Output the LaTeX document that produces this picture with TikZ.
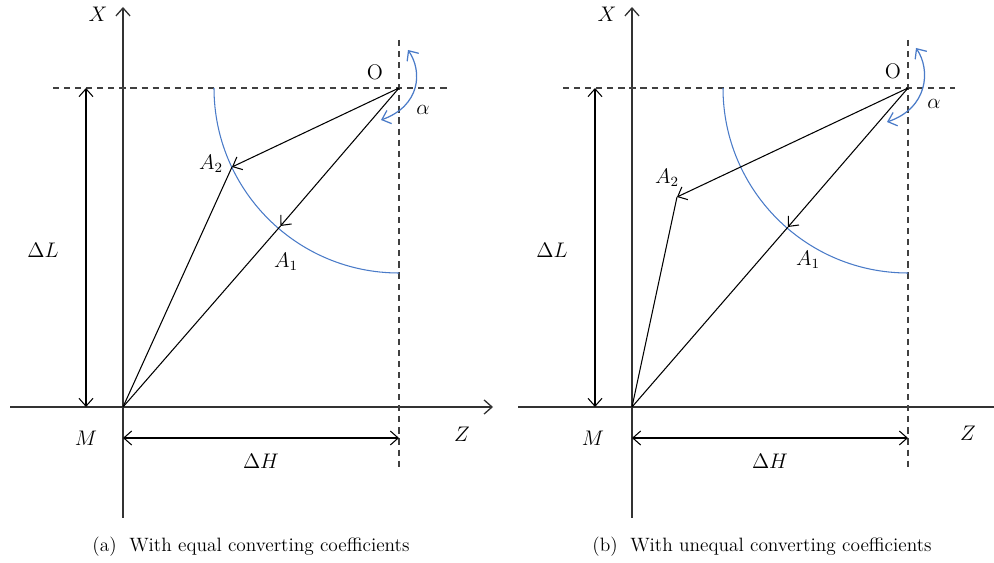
\documentclass[tikz,border=0pt]{standalone}
\usepackage{amsmath}
\usepackage{xcolor}
\usepackage{tikz}
\usetikzlibrary{arrows.meta}
\definecolor{arcblue}{HTML}{4A7BC8}

\begin{document}
\begin{tikzpicture}[x=0.02cm, y=-0.02cm,
		axisline/.style={line width=0.75pt, draw=black!80, -{Straight Barb[length=4.5pt, width=8pt]}},
		guide/.style={line width=0.7pt, draw=black!75, dash pattern=on 3.5pt off 2.8pt},
		dimline/.style={line width=0.6pt, {Straight Barb[length=4.5pt, width=8pt]}-{Straight Barb[length=4.5pt, width=8pt]}},
		vecline/.style={line width=0.6pt, -{Straight Barb[length=4.5pt, width=8pt]}},
		plainline/.style={line width=0.6pt},
		bluearc/.style={line width=0.6pt, draw=arcblue},
		anglearrow/.style={line width=0.7pt, draw=arcblue, {Straight Barb[length=4.5pt, width=8pt]}-{Straight Barb[length=4.5pt, width=8pt]}},
		lbl/.style={font=\fontsize{12}{14}\selectfont, inner sep=0pt},
		caption/.style={font=\fontsize{11}{13}\selectfont, inner sep=0pt}]
	\useasboundingbox (0,0) rectangle (994,563);
	% Panel (a): points
	\coordinate (Ma) at (123,407);
	\coordinate (Oa) at (399,88);
	\coordinate (A2a) at (232,167);
	\coordinate (A1a) at (280.5,226);
	\coordinate (XTa) at (123,7);
	\coordinate (XBa) at (123,518);
	\coordinate (ZLa) at (10,407);
	\coordinate (ZRa) at (493,407);
	\coordinate (GLa) at (53,88);
	\coordinate (GRa) at (447,88);
	\coordinate (GTa) at (399,40);
	\coordinate (GBa) at (399,470);
	\coordinate (LTa) at (86,88);
	\coordinate (LBa) at (86,407);
	\coordinate (HLa) at (123,438);
	\coordinate (HRa) at (399,438);
	\coordinate (ATa) at (408,50);
	\coordinate (ABa) at (381,120);
	% Panel (a): paths
	\draw[axisline] (XBa) -- (XTa);
	\draw[axisline] (ZLa) -- (ZRa);
	\draw[guide] (GLa) -- (GRa);
	\draw[guide] (GTa) -- (GBa);
	\draw[dimline] (LTa) -- (LBa);
	\draw[dimline] (HLa) -- (HRa);
	\draw[bluearc] (Oa) ++(-185,0) arc[start angle=180, end angle=90, radius=185];
	\draw[anglearrow] (ATa) .. controls (423,72) and (420,106) .. (ABa);
	\draw[plainline] (Ma) -- (A2a);
	\draw[plainline] (Ma) -- (A1a);
	\draw[vecline] (Oa) -- (A2a);
	\draw[vecline] (Oa) -- (A1a);
	% Panel (a): labels
	\node[lbl] (XLa) at (98,14) {$X$};
	\node[lbl] (ZLba) at (462,434) {$Z$};
	\node[lbl] (MLa) at (86,438) {$M$};
	\node[lbl] (OLa) at (375,72) {O};
	\node[lbl] (DLa) at (43,250) {$\Delta L$};
	\node[lbl] (DHa) at (261,461) {$\Delta H$};
	\node[lbl] (ALa) at (423,110) {$\alpha$};
	\node[lbl] (A2La) at (211,164) {$A_2$};
	\node[lbl] (A1La) at (286,262) {$A_1$};
	\node[caption] (CAPa) at (251,547) {(a)\ \ With equal converting coefficients};
	% Panel (b): points
	\coordinate (Mb) at (632,407);
	\coordinate (Ob) at (908,88);
	\coordinate (A2b) at (677,197);
	\coordinate (A1b) at (788,227);
	\coordinate (XTb) at (632,7);
	\coordinate (XBb) at (632,518);
	\coordinate (ZLb) at (518,407);
	\coordinate (ZRb) at (994,407);
	\coordinate (GLb) at (563,88);
	\coordinate (GRb) at (955,88);
	\coordinate (GTb) at (908,40);
	\coordinate (GBb) at (908,470);
	\coordinate (LTb) at (595,88);
	\coordinate (LBb) at (595,407);
	\coordinate (HLb) at (632,438);
	\coordinate (HRb) at (908,438);
	\coordinate (ATb) at (916,48);
	\coordinate (ABb) at (887,122);
	% Panel (b): paths
	\draw[axisline] (XBb) -- (XTb);
	\draw[axisline, -] (ZLb) -- (ZRb);
	\draw[guide] (GLb) -- (GRb);
	\draw[guide] (GTb) -- (GBb);
	\draw[dimline] (LTb) -- (LBb);
	\draw[dimline] (HLb) -- (HRb);
	\draw[bluearc] (Ob) ++(-185,0) arc[start angle=180, end angle=90, radius=185];
	\draw[anglearrow] (ATb) .. controls (931,70) and (928,108) .. (ABb);
	\draw[plainline] (Mb) -- (A2b);
	\draw[plainline] (Mb) -- (A1b);
	\draw[vecline] (Ob) -- (A2b);
	\draw[vecline] (Ob) -- (A1b);
	% Panel (b): labels
	\node[lbl] (XLb) at (607,14) {$X$};
	\node[lbl] (ZLbb) at (968,433) {$Z$};
	\node[lbl] (MLb) at (593,438) {$M$};
	\node[lbl] (OLb) at (893,71) {O};
	\node[lbl] (DLb) at (552,250) {$\Delta L$};
	\node[lbl] (DHb) at (770,461) {$\Delta H$};
	\node[lbl] (ALb) at (934,104) {$\alpha$};
	\node[lbl] (A2Lb) at (667,178) {$A_2$};
	\node[lbl] (A1Lb) at (808,260) {$A_1$};
	\node[caption] (CAPb) at (762,547) {(b)\ \ With unequal converting coefficients};
\end{tikzpicture}
\end{document}
